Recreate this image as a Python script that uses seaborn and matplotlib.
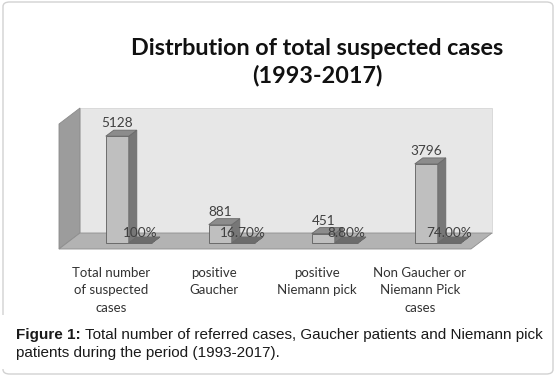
import matplotlib
matplotlib.use("Agg")
import matplotlib.pyplot as plt
import pandas as pd
import seaborn as sns
from matplotlib.patches import Polygon, FancyBboxPatch, Rectangle
from matplotlib.transforms import ScaledTranslation

categories = [
    "Total number\nof suspected\ncases",
    "positive\nGaucher",
    "positive\nNiemann pick",
    "Non Gaucher or\nNiemann Pick\ncases",
]
case_counts = [5128, 881, 451, 3796]
case_shares = [1.00, 0.167, 0.088, 0.74]
share_labels = ["100%", "16.70%", "8.80%", "74.00%"]

title = "Distrbution of total suspected cases\n(1993-2017)"
caption_bold = "Figure 1:"
caption_line1 = " Total number of referred cases, Gaucher patients and Niemann pick"
caption_line2 = "patients during the period (1993-2017)."

sns.set_style("white")
plt.rcParams["font.family"] = ["Lato", "DejaVu Sans"]

W, H, DPI = 556, 377, 100
fig = plt.figure(figsize=(W / DPI, H / DPI), dpi=DPI)

# outer frame of the figure box
frame = FancyBboxPatch((3 / W, 3 / H), 550 / W, 372 / H,
                       boxstyle="round,pad=0,rounding_size=0.012",
                       transform=fig.transFigure, fill=False,
                       edgecolor="#d2d2d2", linewidth=1.0)
fig.patches.append(frame)
fig.patches.append(Rectangle((0, 8 / H), 6 / W, 54 / H, transform=fig.transFigure,
                             facecolor="white", edgecolor="none", zorder=5))

# axes = front plane of the bars
ax = fig.add_axes([67 / W, 134 / H, 412 / W, 125 / H])
ax.patch.set_alpha(0)

df = pd.DataFrame({
    "category": categories * 2,
    "series": ["count"] * 4 + ["share"] * 4,
    "value": case_counts + case_shares,
})
sns.barplot(data=df, x="category", y="value", hue="series", order=categories,
            palette=["#bfbfbf", "#9a9a9a"], width=0.447, gap=0, errorbar=None,
            legend=False, edgecolor="#5e5e5e", linewidth=0.6, ax=ax)
ax.set_xlim(-0.6, 3.4)
ax.set_ylim(0, 6000)
for s in ax.spines.values():
    s.set_visible(False)
ax.set_yticks([])
ax.set(xlabel=None, ylabel=None)

fig.canvas.draw()
p0 = ax.transData.transform((0, 0))
p1 = ax.transData.transform((1, 1))
sx, sy = p1[0] - p0[0], p1[1] - p0[1]


def px(dx, dy):
    return dx / sx, dy / sy


x0, x1 = ax.get_xlim()
y0, y1 = ax.get_ylim()
bdx, bdy = px(13, 10)   # back wall plane
fdx, fdy = px(-8, -6)   # front edge of floor
ddx, ddy = px(8, 6)     # bar depth


def poly(pts, fc, ec="#6a6a6a", lw=0.6, z=1):
    ax.add_patch(Polygon(pts, closed=True, facecolor=fc, edgecolor=ec,
                         linewidth=lw, zorder=z, clip_on=False))


# walls and floor
poly([(x0 + fdx, y0 + fdy), (x0 + bdx, y0 + bdy), (x0 + bdx, y1 + bdy), (x0 + fdx, y1 + fdy)],
     "#9c9c9c", ec="#8a8a8a", z=0.5)
poly([(x0 + bdx, y0 + bdy), (x1 + bdx, y0 + bdy), (x1 + bdx, y1 + bdy), (x0 + bdx, y1 + bdy)],
     "#e7e7e7", ec="#d6d6d6", z=0.4)
poly([(x0 + fdx, y0 + fdy), (x1 + fdx, y0 + fdy), (x1 + bdx, y0 + bdy), (x0 + bdx, y0 + bdy)],
     "#b3b3b3", ec="#8e8e8e", z=0.6)

# 3d faces for bars
face_colors = [("#8c8c8c", "#777777"), ("#6c6c6c", "#5a5a5a")]
for cont, (top_c, side_c) in zip(ax.containers, face_colors):
    for bar in cont:
        bar.set_zorder(3)
        bar.set_clip_on(False)
        a = bar.get_x()
        b = a + bar.get_width()
        h = bar.get_height()
        poly([(b, 0), (b, h), (b + ddx, h + ddy), (b + ddx, ddy)], side_c, z=3)
        poly([(a, h), (b, h), (b + ddx, h + ddy), (a + ddx, h + ddy)], top_c, z=3)

off = lambda dx, dy: ax.transData + ScaledTranslation(dx / DPI, dy / DPI, fig.dpi_scale_trans)
for bar, v in zip(ax.containers[0], case_counts):
    ax.text(bar.get_x() + bar.get_width() / 2, bar.get_height(), f"{v}",
            transform=off(0, 13), ha="center", va="center", fontsize=9.8,
            color="#404040", zorder=5)
for bar, lab in zip(ax.containers[1], share_labels):
    ax.text(bar.get_x() + bar.get_width() / 2, bar.get_height(), lab,
            transform=off(0, 10), ha="center", va="center", fontsize=9.8,
            color="#404040", zorder=5)

ax.tick_params(axis="x", length=0, pad=17, labelsize=9.5, labelcolor="#333333")
for lbl in ax.get_xticklabels():
    lbl.set_linespacing(1.55)
    lbl.set_transform(lbl.get_transform() + ScaledTranslation(-18 / DPI, 0, fig.dpi_scale_trans))

fig.text(317 / W, 1 - 62 / H, title, ha="center", va="center", fontsize=16.8,
         fontweight="bold", color="#111111", linespacing=1.3)

cap_font = dict(family=["Liberation Sans", "DejaVu Sans"], fontsize=11.0, color="#1a1a1a")
t = fig.text(16 / W, 1 - 335 / H, caption_bold, ha="left", va="center", fontweight="bold", **cap_font)
fig.canvas.draw()
bb = t.get_window_extent(fig.canvas.get_renderer())
fig.text(bb.x1 / W, 1 - 335 / H, caption_line1, ha="left", va="center", **cap_font)
fig.text(16 / W, 1 - 353 / H, caption_line2, ha="left", va="center", **cap_font)

fig.savefig("out.png", dpi=DPI)
